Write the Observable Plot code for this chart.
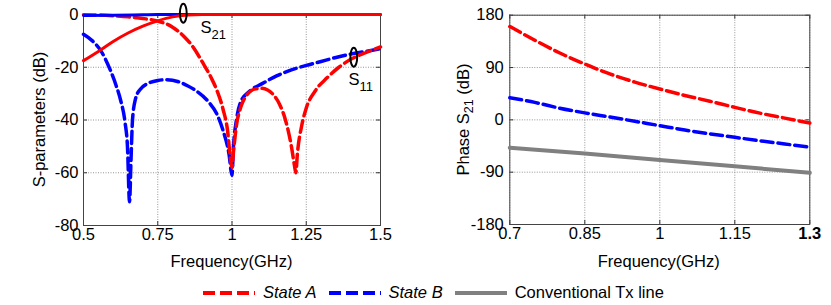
<!DOCTYPE html>
<html><head><meta charset="utf-8">
<script src="https://cdn.jsdelivr.net/npm/d3@7"></script>
<script src="https://cdn.jsdelivr.net/npm/@observablehq/plot@0.6"></script>
<style>
body{margin:0;background:#fff;font-family:"Liberation Sans",Arial,sans-serif;}
#wrap{position:relative;width:831px;height:305px;overflow:hidden;}
#left{position:absolute;left:0;top:0;}
#right{position:absolute;left:415px;top:0;}
#legend{position:absolute;top:283px;left:203px;display:flex;align-items:center;font-size:16.5px;color:#000;white-space:nowrap;}
#legend svg{display:block}
</style>
</head><body>
<div id="wrap"><div id="left"></div><div id="right"></div><div id="legend"></div></div>
<script>
// ---------- Left chart data: S-parameters (dB) ----------
const leftXTicks = [0.5, 0.75, 1, 1.25, 1.5];
const leftYTicks = [0, -20, -40, -60, -80];

const fS11A = [0.5,0.55,0.6,0.65,0.7,0.75,0.8,0.84,0.87,0.9,0.93,0.95,0.97,0.985,0.995,1.0,1.005,1.015,1.03,1.05,1.08,1.1,1.12,1.14,1.16,1.18,1.2,1.21,1.215,1.22,1.235,1.25,1.28,1.32,1.36,1.4,1.45,1.5];
const dbS11A = [-0.1,-0.2,-0.5,-0.9,-1.5,-2.5,-4.8,-8.5,-12.5,-18,-24,-29,-36,-44,-55,-58,-52,-42,-35,-30.5,-28.2,-28,-28.6,-30.5,-34,-40,-50,-57,-60,-53,-42,-35.5,-29,-24,-20,-17,-14.5,-12.3];

const fS11B = [0.5,0.53,0.557,0.59,0.61,0.625,0.64,0.648,0.655,0.66,0.665,0.675,0.69,0.72,0.75,0.78,0.82,0.85,0.88,0.92,0.95,0.97,0.99,1.0,1.005,1.015,1.03,1.06,1.1,1.15,1.2,1.25,1.3,1.35,1.4,1.45,1.5];
const dbS11B = [-7.5,-10,-13.5,-21,-27,-32.5,-41,-50,-71,-55,-40,-32,-28.5,-26,-25,-24.7,-25.5,-27,-29,-33,-38,-44,-53,-61,-50,-40,-33,-29,-26.3,-23.3,-21,-19.3,-17.8,-16.3,-15,-14,-13];

const fS21A = [0.5,0.55,0.6,0.65,0.7,0.75,0.8,0.85,0.9,1.0,1.1,1.2,1.3,1.4,1.5];
const dbS21A = [-17.5,-14,-10.2,-7,-4.4,-2.4,-0.9,-0.2,0,0,0,0,0,0,0];

const fS21B = [0.5,0.6,0.7,0.75,0.85,1.0,1.2,1.5];
const dbS21B = [-0.4,-0.3,-0.1,0,0,0,0,0];

// annotation ellipses and labels
const annotF = [0.836, 1.41];
const annotDb = [0.5, -16.2];
const labelF = [0.894, 1.392];
const labelDb = [-5.0, -24.6];
const labelSub = ["21", "11"];

// ---------- Right chart data: Phase S21 ----------
const rightXTicks = [0.7, 0.85, 1, 1.15, 1.3];
const rightYTicks = [180, 90, 0, -90, -180];

const fPhase = [0.7,0.75,0.8,0.85,0.9,0.95,1.0,1.05,1.1,1.15,1.2,1.25,1.3];
const phaseA = [160.6,137,115,96,79,65,53,42,32,21.5,11.5,3,-5.5];
const phaseB = [38,30,20,12,5,-2.5,-10,-17.5,-24,-30,-36,-41.5,-47];
const fConv = [0.7,0.85,1.0,1.15,1.3];
const phaseConv = [-48,-58,-69,-80,-91];

const RED = "#ff0000", BLUE = "#0000ff", GRAY = "#808080";
const DASH = "12,5";
const FONT = "Liberation Sans, Arial, sans-serif";

const rows = (fs, vs) => fs.map((f, i) => ({f, v: vs[i]}));

const k = 0.5523;
const ellipse = {draw(ctx) {
  const rx = 3.4, ry = 9.5;
  ctx.moveTo(0, -ry);
  ctx.bezierCurveTo(k*rx, -ry, rx, -k*ry, rx, 0);
  ctx.bezierCurveTo(rx, k*ry, k*rx, ry, 0, ry);
  ctx.bezierCurveTo(-k*rx, ry, -rx, k*ry, -rx, 0);
  ctx.bezierCurveTo(-rx, -k*ry, -k*rx, -ry, 0, -ry);
  ctx.closePath();
}};

function frameDecor(xt, yt, fh, fw) {
  const g = {stroke: "#8a8a8a", strokeDasharray: "1,1.5", strokeWidth: 0.9, strokeOpacity: 1};
  return [
    Plot.gridX(xt, g),
    Plot.gridY(yt, g),
    Plot.ruleX(xt, {stroke: "#333", insetTop: fh - 4}),
    Plot.ruleX(xt, {stroke: "#333", insetBottom: fh - 4}),
    Plot.ruleY(yt, {stroke: "#333", insetRight: fw - 4}),
    Plot.ruleY(yt, {stroke: "#333", insetLeft: fw - 4}),
    Plot.frame({stroke: "#444", strokeWidth: 1})
  ];
}

// ---------- Left plot ----------
const L = {w: 415, h: 272, ml: 83, mr: 35, mt: 14, mb: 47};
const left = Plot.plot({
  width: L.w, height: L.h,
  marginLeft: L.ml, marginRight: L.mr, marginTop: L.mt, marginBottom: L.mb,
  style: {fontFamily: FONT, fontSize: "16.5px", color: "#000", background: "#fff", overflow: "visible"},
  x: {domain: [0.5, 1.5], ticks: leftXTicks},
  y: {domain: [-80, 0], ticks: leftYTicks},
  marks: [
    ...frameDecor(leftXTicks, leftYTicks, L.h - L.mt - L.mb, L.w - L.ml - L.mr),
    Plot.axisX(leftXTicks, {tickSize: 0, tickPadding: 3, label: null, fontSize: 16.5, tickFormat: d => String(d)}),
    Plot.axisY(leftYTicks, {tickSize: 0, tickPadding: 5, label: null, fontSize: 16.5, tickFormat: d => String(d)}),
    Plot.line(rows(fS11B, dbS11B), {x: "f", y: "v", stroke: BLUE, strokeWidth: 3.5, strokeDasharray: DASH, curve: "monotone-x"}),
    Plot.line(rows(fS11A, dbS11A), {x: "f", y: "v", stroke: RED, strokeWidth: 3.5, strokeDasharray: DASH, curve: "monotone-x"}),
    Plot.line(rows(fS21B, dbS21B), {x: "f", y: "v", stroke: BLUE, strokeWidth: 3, curve: "monotone-x"}),
    Plot.line(rows(fS21A, dbS21A), {x: "f", y: "v", stroke: RED, strokeWidth: 3, curve: "monotone-x"}),
    Plot.dot(rows(annotF, annotDb), {x: "f", y: "v", symbol: ellipse, r: 1, stroke: "#000", strokeWidth: 2, fill: "none"}),
    Plot.text(rows(labelF, labelDb), {x: "f", y: "v", text: () => "S", textAnchor: "start", fontSize: 16.5, fill: "#000"}),
    Plot.text(rows(labelF, labelDb), {x: "f", y: "v", text: (d, i) => labelSub[i], textAnchor: "start", dx: 11, dy: 7, fontSize: 13, fill: "#000"})
  ]
});
document.getElementById("left").append(left);

// ---------- Right plot ----------
const R = {w: 416, h: 272, ml: 94.3, mr: 21.7, mt: 14.7, mb: 48};
const right = Plot.plot({
  width: R.w, height: R.h,
  marginLeft: R.ml, marginRight: R.mr, marginTop: R.mt, marginBottom: R.mb,
  style: {fontFamily: FONT, fontSize: "16.5px", color: "#000", background: "#fff", overflow: "visible"},
  x: {domain: [0.7, 1.3], ticks: rightXTicks},
  y: {domain: [-180, 180], ticks: rightYTicks},
  marks: [
    ...frameDecor(rightXTicks, rightYTicks, R.h - R.mt - R.mb, R.w - R.ml - R.mr),
    Plot.axisX(rightXTicks, {tickSize: 0, tickPadding: 3, label: null, fontSize: 16.5, tickFormat: d => String(d)}),
    Plot.axisY(rightYTicks, {tickSize: 0, tickPadding: 6, label: null, fontSize: 16.5, tickFormat: d => String(d)}),
    Plot.line(rows(fConv, phaseConv), {x: "f", y: "v", stroke: GRAY, strokeWidth: 4}),
    Plot.line(rows(fPhase, phaseB), {x: "f", y: "v", stroke: BLUE, strokeWidth: 3.5, strokeDasharray: DASH, curve: "monotone-x"}),
    Plot.line(rows(fPhase, phaseA), {x: "f", y: "v", stroke: RED, strokeWidth: 3.5, strokeDasharray: DASH, curve: "monotone-x"})
  ]
});
document.getElementById("right").append(right);

// bold "1.3" tick label as in the reference
d3.select(right).selectAll("text").filter(function() { return this.textContent === "1.3"; }).attr("font-weight", "bold");

// axis titles
function addTitles(svg, cx, xlabelY, ylabelX, cy, ylabel) {
  const s = d3.select(svg);
  s.append("text").attr("x", cx).attr("y", xlabelY).attr("text-anchor", "middle")
    .attr("font-size", 16.5).attr("font-family", FONT).attr("fill", "#000").text("Frequency(GHz)");
  const t = s.append("text").attr("transform", `translate(${ylabelX},${cy}) rotate(-90)`)
    .attr("text-anchor", "middle").attr("dominant-baseline", "middle")
    .attr("font-size", 16.5).attr("font-family", FONT).attr("fill", "#000");
  ylabel(t);
}
addTitles(left, 231.5, 267, 41, 119.5, t => t.text("S-parameters (dB)"));
addTitles(right, 658.7 - 415, 267, 465 - 415, 119.5, t => {
  t.append("tspan").text("Phase S");
  t.append("tspan").attr("font-size", 12.5).attr("dy", 5).text("21");
  t.append("tspan").attr("dy", -5).text(" (dB)");
});

// ---------- Legend ----------
const legendItems = [
  {label: "State A", color: RED, dash: DASH, italic: true},
  {label: "State B", color: BLUE, dash: DASH, italic: true},
  {label: "Conventional Tx line", color: GRAY, dash: null, italic: false}
];
const leg = d3.select("#legend");
legendItems.forEach((it, i) => {
  const item = leg.append("div").style("display", "flex").style("align-items", "center")
    .style("margin-right", i < 2 ? "12px" : "0");
  const sw = item.append("svg").attr("width", 52).attr("height", 8).style("margin-right", "8px");
  sw.append("line").attr("x1", 0).attr("x2", 52).attr("y1", 4).attr("y2", 4)
    .attr("stroke", it.color).attr("stroke-width", 4).attr("stroke-dasharray", it.dash);
  item.append("span").style("font-style", it.italic ? "italic" : "normal").text(it.label);
});
</script>
</body></html>
